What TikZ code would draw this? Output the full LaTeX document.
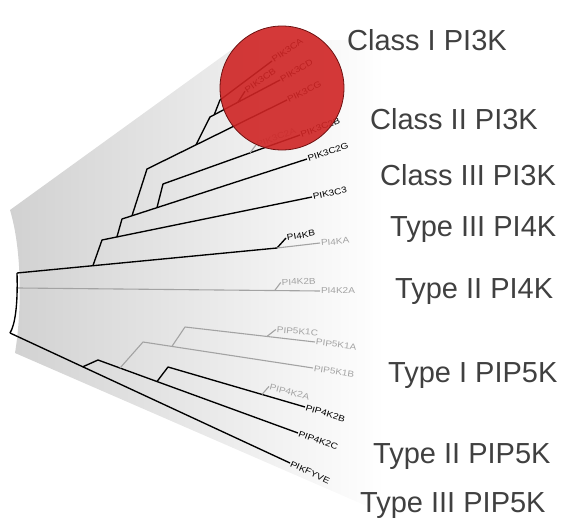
\documentclass[tikz,border=0pt]{standalone}
\usepackage{fontspec}
\setmainfont{Liberation Sans}
\newfontfamily\leaffont[FakeStretch=1.18]{Liberation Sans}
\usepackage{tikz}
\usetikzlibrary{calc}
\definecolor{cladered}{HTML}{CF2424}
\definecolor{cladeedge}{HTML}{6E1010}
\definecolor{leafgray}{HTML}{A3A3A3}
\definecolor{familytext}{HTML}{404040}

\begin{document}
\begin{tikzpicture}[x=1pt, y=-1pt,
		branch/.style={line width=1.35pt, black, line join=round},
		faint/.style={line width=1.1pt, leafgray, line join=round},
		leaf/.style={font=\leaffont\fontsize{8.5}{8.5}\selectfont, inner sep=0.8pt, anchor=west},
		family/.style={font=\fontsize{29}{29}\selectfont, text=familytext, anchor=base west, inner sep=0pt}]
		\useasboundingbox (0,0) rectangle (566,525);

		% Tree points (pixel grid, y grows downwards)
		\coordinate (root) at (17,273);
		\coordinate (rootlow) at (10,333);
		\coordinate (k2root) at (18,288);
		\coordinate (pi4k) at (277,248);
		\coordinate (kbtip) at (286,238);
		\coordinate (katip) at (320,243);
		\coordinate (n1) at ($(root)!0.292!(pi4k)$);
		\coordinate (n1up) at (102,240);
		\coordinate (c3tip) at (312,197);
		\coordinate (n2) at ($(n1up)!0.071!(c3tip)$);
		\coordinate (n2up) at (122,219);
		\coordinate (c2gtip) at (307,159);
		\coordinate (n3) at ($(n2up)!0.054!(c2gtip)$);
		\coordinate (n4) at ($(n2up)!0.189!(c2gtip)$);
		\coordinate (n3up) at (147,169);
		\coordinate (cgtip) at (287,100);
		\coordinate (n4up) at (163,184);
		\coordinate (c2btip) at (300,135);
		\coordinate (c2a) at ($(n4up)!0.635!(c2btip)$);
		\coordinate (c2atip) at ($(c2a)+(6,-8)$);
		\coordinate (n5) at ($(n3up)!0.35!(cgtip)$);
		\coordinate (n5up) at (210,117);
		\coordinate (cdtip) at (280,80);
		\coordinate (n6) at ($(n5up)!0.06!(cdtip)$);
		\coordinate (n6up) at (220,100);
		\coordinate (catip) at (272,61);
		\coordinate (cb) at ($(n5up)!0.4!(cdtip)$);
		\coordinate (cbtip) at ($(cb)+(7,-11)$);
		\coordinate (k2atip) at (320,291);
		\coordinate (k2b) at ($(k2root)!0.85!(k2atip)$);
		\coordinate (k2btip) at ($(k2b)+(6,-8)$);
		\coordinate (fyvetip) at (290,463);
		\coordinate (m1) at ($(rootlow)!0.26!(fyvetip)$);
		\coordinate (m1up) at (98,360);
		\coordinate (p2ctip) at (298,433);
		\coordinate (m2) at ($(m1up)!0.11!(p2ctip)$);
		\coordinate (m3) at ($(m1up)!0.295!(p2ctip)$);
		\coordinate (m2up) at (143,342);
		\coordinate (k1btip) at (313,368);
		\coordinate (m4) at ($(m2up)!0.17!(k1btip)$);
		\coordinate (m4up) at (185,327);
		\coordinate (k1atip) at (315,342);
		\coordinate (k1c) at ($(m4up)!0.63!(k1atip)$);
		\coordinate (k1ctip) at ($(k1c)+(9,-7)$);
		\coordinate (m3up) at (168,367);
		\coordinate (p2btip) at (305,407);
		\coordinate (p2a) at ($(m3up)!0.686!(p2btip)$);
		\coordinate (p2atip) at ($(p2a)+(7,-8)$);

		% Grey fan behind the tree
		\shade[left color=black!18, right color=white]
		(10,210) -- (245,40) -- (385,40) -- (385,514) -- (15,353)
		.. controls (22,310) and (22,250) .. (10,210);

		% Root
		\draw[branch] (root) .. controls (18,305) and (15,325) .. (rootlow);

		% PI3K and type III PI4K branches
		\draw[branch] (root) -- (pi4k) -- (kbtip);
		\draw[faint] (pi4k) -- (katip);
		\draw[branch] (n1) -- (n1up) -- (c3tip);
		\draw[branch] (n2) -- (n2up) -- (c2gtip);
		\draw[branch] (n4) -- (n4up) -- (c2btip);
		\draw[faint] (c2a) -- (c2atip);
		\draw[branch] (n3) -- (n3up) -- (cgtip);
		\draw[branch] (n5) -- (n5up) -- (cdtip);
		\draw[branch] (cb) -- (cbtip);
		\draw[branch] (n6) -- (n6up) -- (catip);

		% Type II PI4K
		\draw[faint] (k2root) -- (k2atip);
		\draw[faint] (k2b) -- (k2btip);

		% PIP kinases
		\draw[branch] (rootlow) -- (fyvetip);
		\draw[branch] (m1) -- (m1up) -- (p2ctip);
		\draw[faint] (m2) -- (m2up) -- (k1btip);
		\draw[faint] (m4) -- (m4up) -- (k1atip);
		\draw[faint] (k1c) -- (k1ctip);
		\draw[branch] (m3) -- (m3up) -- (p2btip);
		\draw[faint] (p2a) -- (p2atip);

		% Leaf labels
		\node[leaf, rotate=35] (lbca) at (catip) {PIK3CA};
		\node[leaf, rotate=30] (lbcd) at (cdtip) {PIK3CD};
		\node[leaf, rotate=35] (lbcb) at (cbtip) {PIK3CB};
		\node[leaf, rotate=26] (lbcg) at (cgtip) {PIK3CG};
		\node[leaf, rotate=20, text=leafgray] (lbc2a) at (c2atip) {PIK3C2A};
		\node[leaf, rotate=20] (lbc2b) at (c2btip) {PIK3C2B};
		\node[leaf, rotate=18] (lbc2g) at (c2gtip) {PIK3C2G};
		\node[leaf, rotate=12] (lbc3) at (c3tip) {PIK3C3};
		\node[leaf, rotate=10] (lbkb) at (kbtip) {PI4KB};
		\node[leaf, rotate=5, text=leafgray] (lbka) at (katip) {PI4KA};
		\node[leaf, rotate=3, text=leafgray] (lbk2b) at (k2btip) {PI4K2B};
		\node[leaf, rotate=0, text=leafgray] (lbk2a) at (k2atip) {PI4K2A};
		\node[leaf, rotate=-5, text=leafgray] (lbk1c) at (k1ctip) {PIP5K1C};
		\node[leaf, rotate=-7, text=leafgray] (lbk1a) at (k1atip) {PIP5K1A};
		\node[leaf, rotate=-9, text=leafgray] (lbk1b) at (k1btip) {PIP5K1B};
		\node[leaf, rotate=-15, text=leafgray] (lbp2a) at (p2atip) {PIP4K2A};
		\node[leaf, rotate=-17] (lbp2b) at (p2btip) {PIP4K2B};
		\node[leaf, rotate=-20] (lbp2c) at (p2ctip) {PIP4K2C};
		\node[leaf, rotate=-25] (lbfyve) at (fyvetip) {PIKFYVE};

		% Class I highlight
		\node[circle, minimum size=124pt, inner sep=0pt, fill=cladered, fill opacity=0.9,
			draw=cladeedge, line width=0.8pt] (classone) at (282,88) {};

		% Family names
		\foreach \fx/\fy/\fname [count=\i] in {347/50/Class I PI3K, 370/129/Class II PI3K,
				380/185/Class III PI3K, 390/236/Type III PI4K, 395/298/Type II PI4K,
				388/382/Type I PIP5K, 373/463/Type II PIP5K, 360/512/Type III PIP5K} {
				\node[family] (fam\i) at (\fx,\fy) {\fname};
			}
	\end{tikzpicture}
\end{document}
